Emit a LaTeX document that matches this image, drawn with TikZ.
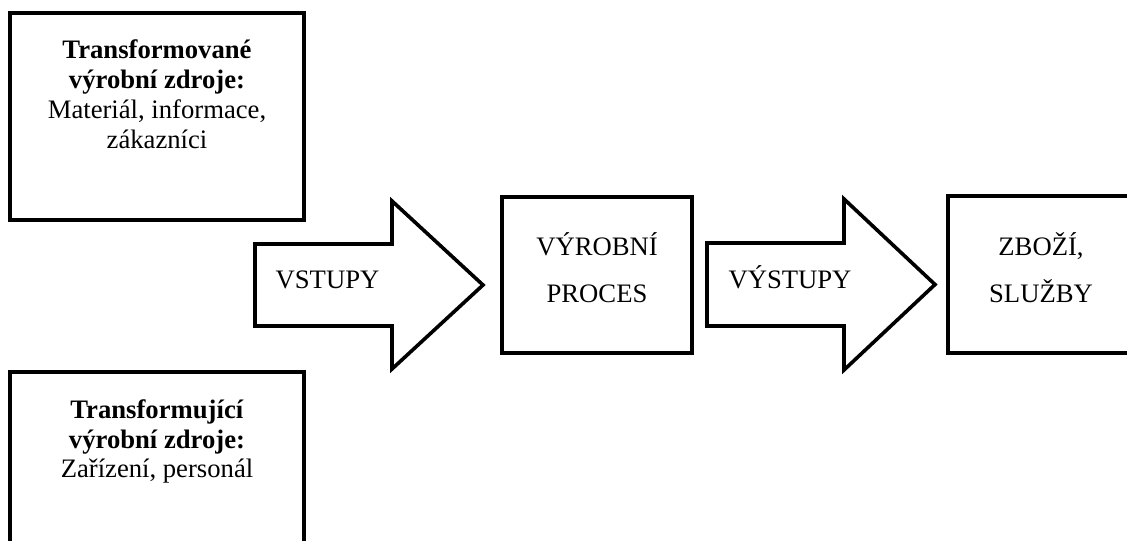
\documentclass[tikz,border=0pt]{standalone}
\usepackage{fontspec}
\setmainfont{Liberation Serif}
\begin{document}
\begin{tikzpicture}[x=0.75pt,y=-0.75pt,
  frame/.style={draw=black, line width=2.7pt, fill=white, rectangle, inner sep=0pt},
  bigarrow/.style={draw=black, line width=2.7pt, fill=white, line join=miter},
  srctext/.style={align=center, inner sep=0pt, font=\fontsize{20}{22.4}\selectfont},
  midtext/.style={align=center, inner sep=0pt, font=\fontsize{20}{35}\selectfont},
]
\useasboundingbox (0,0) rectangle (1127,540);
\clip (0,0) rectangle (1127,540);
\fill[white] (0,0) rectangle (1127,540);

% resource boxes on the left
\node[frame, minimum width=220.5pt, minimum height=155.25pt] (src1) at (157,116.5) {};
\node[frame, minimum width=220.5pt, minimum height=141pt] (src2) at (157,466) {};

% process and output boxes
\node[frame, minimum width=142.5pt, minimum height=117pt] (proc) at (597,275) {};
\node[frame, minimum width=144pt, minimum height=117.75pt] (out) at (1044,274.5) {};

% block arrows
\draw[bigarrow] (255,244) -- (392,244) -- (392,201) -- (483,285) -- (392,369)
  -- (392,326) -- (255,326) -- cycle;
\draw[bigarrow] (707,243) -- (844,243) -- (844,199) -- (935,284.5) -- (844,370)
  -- (844,326) -- (707,326) -- cycle;

% labels
\node[srctext] (t1) at (157,94) {\textbf{Transformované}\\\textbf{výrobní zdroje:}\\Materiál, informace,\\zákazníci};
\node[srctext] (t2) at (157,441.5) {\textbf{Transformující}\\\textbf{výrobní zdroje:}\\Zařízení, personál};
\node[midtext] (vst) at (327.5,279.5) {VSTUPY};
\node[midtext] (vp) at (597,268) {VÝROBNÍ\\PROCES};
\node[midtext] (vys) at (790,277) {VÝSTUPY};
\node[midtext] (zb) at (1041,268) {ZBOŽÍ,\\SLUŽBY};
\end{tikzpicture}
\end{document}
